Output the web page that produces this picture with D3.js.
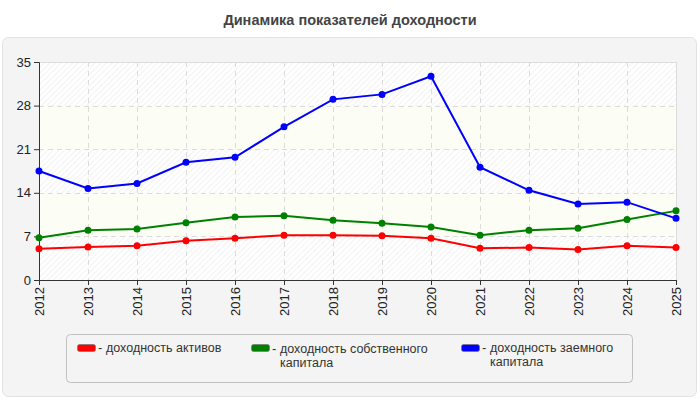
<!DOCTYPE html>
<html>
<head>
<meta charset="utf-8">
<script src="https://cdn.jsdelivr.net/npm/d3@7"></script>
<style>
  body { margin: 0; background: #fff; font-family: "Liberation Sans", Arial, sans-serif; }
  svg { display: block; }
</style>
</head>
<body>
<svg width="700" height="400"></svg>
<script>
const years = [2012, 2013, 2014, 2015, 2016, 2017, 2018, 2019, 2020, 2021, 2022, 2023, 2024, 2025];
const assetsReturn = [5.0, 5.3, 5.5, 6.3, 6.7, 7.2, 7.2, 7.1, 6.7, 5.1, 5.2, 4.9, 5.5, 5.2];
const equityReturn = [6.8, 8.0, 8.2, 9.2, 10.1, 10.3, 9.6, 9.1, 8.5, 7.2, 8.0, 8.3, 9.7, 11.1];
const debtReturn = [17.5, 14.7, 15.5, 18.9, 19.7, 24.6, 29.0, 29.8, 32.7, 18.1, 14.4, 12.2, 12.5, 9.9];
const yTicks = [0, 7, 14, 21, 28, 35];

const series = [
  { name: ["доходность активов"], values: assetsReturn, color: "#ff0000" },
  { name: ["доходность собственного", "капитала"], values: equityReturn, color: "#008000" },
  { name: ["доходность заемного", "капитала"], values: debtReturn, color: "#0000ff" }
];

const svg = d3.select("svg");
const margin = { top: 62, right: 24, bottom: 120, left: 39 };
const width = 700 - margin.left - margin.right;
const height = 400 - margin.top - margin.bottom;

// title
svg.append("text")
  .attr("x", 350).attr("y", 25)
  .attr("text-anchor", "middle")
  .style("font-size", "14.5px").style("font-weight", "bold")
  .attr("fill", "#444")
  .text("Динамика показателей доходности");

// outer panel
svg.append("rect")
  .attr("x", 2.5).attr("y", 37.5).attr("width", 694).attr("height", 359)
  .attr("rx", 6)
  .attr("fill", "#f4f4f4").attr("stroke", "#e2e2e2");

const defs = svg.append("defs");
const pat = defs.append("pattern")
  .attr("id", "hatch").attr("patternUnits", "userSpaceOnUse")
  .attr("width", 4).attr("height", 4)
  .attr("patternTransform", "rotate(45)");
pat.append("rect").attr("width", 4).attr("height", 4).attr("fill", "#fff");
pat.append("line").attr("x1", 0).attr("y1", 0).attr("x2", 0).attr("y2", 4)
  .attr("stroke", "#eeeeee").attr("stroke-width", 1.5);

const x = d3.scaleLinear().domain([2012, 2025]).range([0, width]);
const y = d3.scaleLinear().domain([0, 35]).range([height, 0]);

const g = svg.append("g").attr("transform", `translate(${margin.left},${margin.top})`);

// background bands
d3.pairs(yTicks).forEach(([a, b], i) => {
  g.append("rect")
    .attr("x", 0).attr("y", y(b)).attr("width", width).attr("height", y(a) - y(b))
    .attr("fill", i % 2 === 0 ? "url(#hatch)" : "#fcfdf5");
});

// grid
g.selectAll(".hgrid").data(yTicks.slice(1, -1)).enter().append("line")
  .attr("x1", 0).attr("x2", width)
  .attr("y1", d => Math.round(y(d)) + 0.5).attr("y2", d => Math.round(y(d)) + 0.5)
  .attr("stroke", "#dcdcdc").attr("stroke-dasharray", "5,4");
g.selectAll(".vgrid").data(years.slice(1, -1)).enter().append("line")
  .attr("y1", 0).attr("y2", height)
  .attr("x1", d => Math.round(x(d)) + 0.5).attr("x2", d => Math.round(x(d)) + 0.5)
  .attr("stroke", "#dcdcdc").attr("stroke-dasharray", "5,4");

// top / right border
g.append("path")
  .attr("d", `M0,0.5H${width + 0.5}V${height}`)
  .attr("fill", "none").attr("stroke", "#dcdcdc");

// axes
const yAxis = g.append("g").call(d3.axisLeft(y).tickValues(yTicks).tickSize(5).tickPadding(3));
const xAxis = g.append("g").attr("transform", `translate(0,${height})`)
  .call(d3.axisBottom(x).tickValues(years).tickFormat(d3.format("d")).tickSize(5).tickPadding(3));
[yAxis, xAxis].forEach(a => {
  a.select(".domain").attr("stroke", "#333");
  a.selectAll(".tick line").attr("stroke", "#333");
  a.selectAll("text").attr("fill", "#222").style("font-size", "13px")
    .style("font-family", "Liberation Sans, Arial, sans-serif");
});
xAxis.selectAll("text")
  .attr("transform", "rotate(-90)")
  .attr("text-anchor", "end")
  .attr("x", -7).attr("y", 0).attr("dy", "0.35em");

// lines
const line = d3.line().x((d, i) => x(years[i])).y(d => y(d));
series.forEach(s => {
  g.append("path").attr("d", line(s.values))
    .attr("fill", "none").attr("stroke", s.color).attr("stroke-width", 2);
  g.selectAll(null).data(s.values).enter().append("circle")
    .attr("cx", (d, i) => x(years[i])).attr("cy", d => y(d))
    .attr("r", 3.5).attr("fill", s.color);
});

// legend
svg.append("rect")
  .attr("x", 66.5).attr("y", 334.5).attr("width", 566).attr("height", 48)
  .attr("rx", 4).attr("fill", "#f4f4f4").attr("stroke", "#c0c0c0");
const legendX = [77, 251, 461];
const legendY = [352, 353, 352];
series.forEach((s, i) => {
  const lg = svg.append("g").attr("transform", `translate(${legendX[i]},0)`);
  lg.append("rect").attr("x", 0.5).attr("y", 344.5).attr("width", 18).attr("height", 7)
    .attr("rx", 2).attr("fill", s.color).attr("stroke", "#777").attr("stroke-width", 0.7);
  lg.append("text").attr("x", 21).attr("y", legendY[i])
    .style("font-size", "13px").attr("fill", "#333").text("-");
  const t = lg.append("text").attr("y", legendY[i])
    .style("font-size", "12.5px").attr("fill", "#333");
  s.name.forEach((n, j) => {
    t.append("tspan").attr("x", 29).attr("dy", j === 0 ? 0 : 14).text(n);
  });
});
</script>
</body>
</html>
